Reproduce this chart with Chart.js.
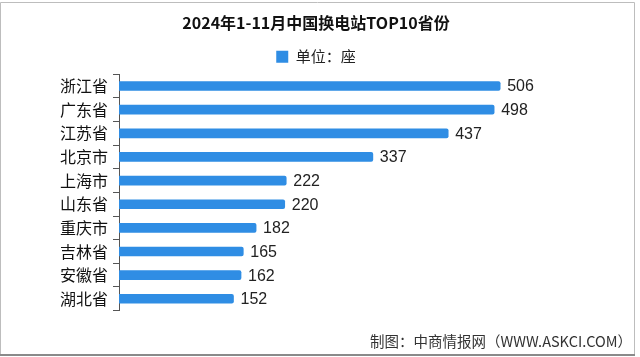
<!DOCTYPE html>
<html>
<head>
<meta charset="utf-8">
<script src="https://cdn.jsdelivr.net/npm/chart.js@4"></script>
<style>
html,body{margin:0;padding:0;background:#fff;}
#wrap{position:relative;width:640px;height:357px;}
</style>
</head>
<body>
<div id="wrap"><canvas id="c" width="640" height="357"></canvas></div>
<script>
const titleText = '2024年1-11月中国换电站TOP10省份';
const legendLabel = '单位：座';
const footerText = '制图：中商情报网（WWW.ASKCI.COM）';
const categories = ['浙江省','广东省','江苏省','北京市','上海市','山东省','重庆市','吉林省','安徽省','湖北省'];
const values = [506, 498, 437, 337, 222, 220, 182, 165, 162, 152];

const barColor = '#2F8DE4';

const valueLabels = {
  id: 'valueLabels',
  afterDatasetsDraw(chart) {
    const ctx = chart.ctx;
    const meta = chart.getDatasetMeta(0);
    ctx.save();
    ctx.font = '16px "Liberation Sans", Arial, sans-serif';
    ctx.fillStyle = '#222';
    ctx.textBaseline = 'middle';
    ctx.textAlign = 'left';
    meta.data.forEach((bar, i) => {
      ctx.fillText(String(values[i]), bar.x + 7, bar.y + 1);
    });
    ctx.restore();
  }
};

const frame = {
  id: 'frame',
  afterDraw(chart) {
    const ctx = chart.ctx;
    ctx.save();
    ctx.strokeStyle = '#bdbdbd';
    ctx.lineWidth = 1;
    ctx.beginPath();
    ctx.moveTo(0.5, 354.5); ctx.lineTo(0.5, 2.5); ctx.lineTo(634.5, 2.5); ctx.lineTo(634.5, 354.5);
    ctx.stroke();
    ctx.strokeStyle = '#8a8a8a';
    ctx.lineWidth = 2;
    ctx.beginPath();
    ctx.moveTo(0, 355); ctx.lineTo(635, 355);
    ctx.stroke();
    ctx.restore();
  }
};

new Chart(document.getElementById('c'), {
  type: 'bar',
  data: {
    labels: categories,
    datasets: [{
      label: legendLabel,
      data: values,
      backgroundColor: barColor,
      borderRadius: 2,
      borderSkipped: 'start',
      barThickness: 9
    }]
  },
  plugins: [valueLabels, frame],
  options: {
    indexAxis: 'y',
    responsive: false,
    animation: false,
    devicePixelRatio: 1,
    layout: { padding: { left: 0, right: 8, top: 0, bottom: 0 } },
    scales: {
      x: { display: false, min: 0, max: 681 },
      y: {
        afterFit(s) { s.width = 119; },
        border: { display: true, color: '#555', width: 1 },
        grid: { display: true, drawOnChartArea: false, drawTicks: true, tickLength: 6, color: '#555', offset: true },
        ticks: { color: '#111', font: { size: 16, family: '"Noto Sans CJK SC", sans-serif' }, padding: 5 }
      }
    },
    plugins: {
      title: {
        display: true,
        text: titleText,
        color: '#111',
        font: { size: 16, weight: 'bold', family: '"Noto Sans CJK SC", serif' },
        padding: { top: 13, bottom: 7 }
      },
      legend: {
        display: true,
        labels: {
          boxWidth: 12, boxHeight: 12,
          color: '#222',
          font: { size: 15, family: '"Noto Sans CJK SC", sans-serif' },
          padding: 10
        }
      },
      subtitle: {
        display: true,
        text: footerText,
        position: 'bottom',
        align: 'end',
        color: '#333',
        font: { size: 14.5, family: '"Noto Sans CJK SC", sans-serif' },
        padding: { top: 22, bottom: 7 }
      },
      tooltip: { enabled: false }
    }
  }
});
</script>
</body>
</html>
